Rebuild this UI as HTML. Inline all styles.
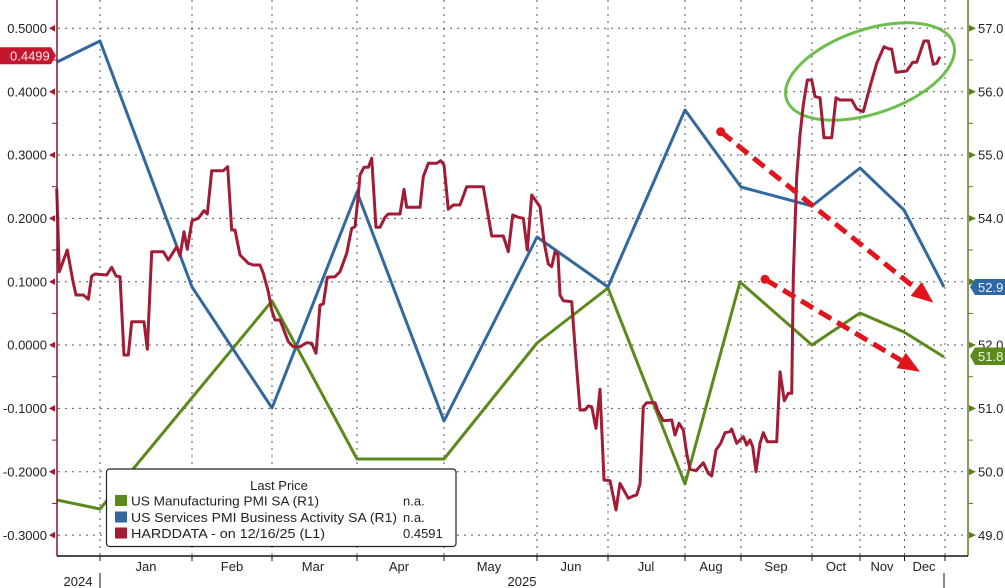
<!DOCTYPE html>
<html>
<head>
<meta charset="utf-8">
<style>
html,body{margin:0;padding:0;background:#fff;}
svg{display:block;}
text{font-family:"Liberation Sans",Arial,sans-serif;}
</style>
</head>
<body>
<svg width="1005" height="588" viewBox="0 0 1005 588" xmlns="http://www.w3.org/2000/svg">
<rect x="0" y="0" width="1005" height="588" fill="#fff"/>

<!-- horizontal gridlines -->
<g stroke="#555" stroke-width="1" stroke-dasharray="2 5" fill="none">
<line x1="58" y1="28.3" x2="968" y2="28.3"/>
<line x1="58" y1="91.7" x2="968" y2="91.7"/>
<line x1="58" y1="155" x2="968" y2="155"/>
<line x1="58" y1="218.4" x2="968" y2="218.4"/>
<line x1="58" y1="281.7" x2="968" y2="281.7"/>
<line x1="58" y1="345" x2="968" y2="345"/>
<line x1="58" y1="408.4" x2="968" y2="408.4"/>
<line x1="58" y1="471.8" x2="968" y2="471.8"/>
<line x1="58" y1="535.1" x2="968" y2="535.1"/>
</g>
<!-- vertical gridlines -->
<g stroke="#555" stroke-width="1" stroke-dasharray="2 5" fill="none">
<line x1="100" y1="0" x2="100" y2="556"/>
<line x1="192" y1="0" x2="192" y2="556"/>
<line x1="272" y1="0" x2="272" y2="556"/>
<line x1="357" y1="0" x2="357" y2="556"/>
<line x1="444" y1="0" x2="444" y2="556"/>
<line x1="537" y1="0" x2="537" y2="556"/>
<line x1="608" y1="0" x2="608" y2="556"/>
<line x1="685" y1="0" x2="685" y2="556"/>
<line x1="741" y1="0" x2="741" y2="556"/>
<line x1="812" y1="0" x2="812" y2="556"/>
<line x1="860" y1="0" x2="860" y2="556"/>
<line x1="904.5" y1="0" x2="904.5" y2="556"/>
<line x1="945" y1="0" x2="945" y2="556"/>
</g>

<!-- ellipse annotation -->
<ellipse cx="870" cy="71.5" rx="88" ry="42" transform="rotate(-18.6 870 71.5)" fill="none" stroke="#6cbf4c" stroke-width="3"/>

<!-- green series (Manufacturing PMI) -->
<polyline fill="none" stroke="#5b8a1c" stroke-width="3" stroke-linejoin="round"
points="57,500 100,509 272,301 357,459 444,459 537,343 608,288 685,484 740,282 812,345 860,313 904,332 944,357"/>

<!-- blue series (Services PMI) -->
<polyline fill="none" stroke="#33689f" stroke-width="3" stroke-linejoin="round"
points="57,62 100,41 192,287 272,408 357,192 444,421 537,237 608,287 685,110 741,187 812,206 860,168 904,210 944,287"/>

<!-- red series (HARDDATA) -->
<polyline fill="none" stroke="#a11c35" stroke-width="3" stroke-linejoin="round"
points="56.7,188.3 59.3,271.7 67.3,250 72.7,280 76,295 83.3,295 88.3,299.3 91.7,276 95,274 106.7,275 111.7,267.3 116,276 120,276.7 124,355 128.3,355 131.7,321.7 144,321.7 147.3,349.3 151.7,251.7 163.3,251.7 168.3,260 176.7,246.7 180,256 184,231.7 187.3,249.3 192,220.7 198.3,218.3 204,210.7 207.3,214 211.7,170.7 223.3,170.7 227.7,166.7 231.7,230 235,230 240,255 248.3,263.3 253.3,265 260,265 263.3,273.3 268.3,291.7 271.7,310 275,320 280,320 288.3,341.7 293.3,346.7 300,346.7 306.7,342.7 311.7,343.3 316,353.3 320,305 323.3,304 327.3,277.3 335,276.7 340,271.7 346.7,253.3 351.7,228.3 355,226.7 358.3,195 360,175 364,167.3 368.3,167.3 371.7,158.3 376,227.3 380,227.3 385,217.3 388.3,214 400,214 404,189.3 406.7,207.3 420,207.3 423.3,176.7 428.3,163.3 436.7,163.3 440.7,160.7 444,165 448.3,209.3 453.3,205 460,205 466.7,186.7 483.3,186.7 491.7,236 503.3,236 508.3,251.7 512.7,215 518.3,217.3 523.3,218.3 527.3,250 531.7,195 540,206.7 544,241.7 548.3,264 551.7,266.7 555,251.7 558,255 560,295 563.3,300.7 571.7,301.7 575,346.7 580,410 585,410 588.3,406 591.7,406.7 596,428.3 600,389.3 604,480 610,480.7 616,510 620,483.3 628.3,498.3 633.3,496 636.7,495 640,484 643.3,406.7 646.7,402.7 655,402.7 658.3,411.7 663.3,420.7 671.7,420 675,435 679,423.3 683.3,430 686.7,453.3 690,469.3 696,470.7 703.3,462.7 708.3,473.3 711.7,476 716,450 720.7,443.3 725,432.7 730,431.7 731.7,429 736.7,443.3 743.3,436.7 746.7,445 750,440 752.7,446.7 756,471.7 760,443.3 763.3,432.7 767.3,441.7 776.7,441.7 780,371.7 784.3,400.7 788.3,393.3 791.7,393.3 793.3,276.7 796.7,176.7 800,135 803.3,105 807.3,80 811.7,80 815,96.7 820,97.7 824,137.7 831.7,137.7 836,97.7 840,100 851.7,100 856.7,109 863.3,111.7 870,86.7 876.7,63.3 884,46.7 889.3,49 891.7,49 896,72.3 906.7,71 912.7,62.3 916.7,62.3 924,41 928.3,41 933.3,64.3 936.7,63.3 940,56.7"/>

<!-- red dashed arrows -->
<g stroke="#e2151c" stroke-width="5" fill="none" stroke-dasharray="14 7">
<line x1="720.7" y1="131.7" x2="916.2" y2="288.9"/>
<line x1="765" y1="279.3" x2="901.1" y2="360.4"/>
</g>
<g fill="#e2151c">
<circle cx="720.7" cy="131.7" r="4.5"/>
<circle cx="765" cy="279.3" r="4.5"/>
<polygon points="933.3,302.7 910.6,295.9 921.8,281.9"/>
<polygon points="920,371.7 896.5,368.1 905.7,352.7"/>
</g>

<!-- left axis -->
<line x1="57" y1="0" x2="57" y2="556" stroke="#7d1a2a" stroke-width="1.5"/>
<g fill="#9b1b30">
<polygon points="49,28.3 55,25 55,31.6"/>
<polygon points="49,91.7 55,88.4 55,95"/>
<polygon points="49,155 55,151.7 55,158.3"/>
<polygon points="49,218.4 55,215.1 55,221.7"/>
<polygon points="49,281.7 55,278.4 55,285"/>
<polygon points="49,345 55,341.7 55,348.3"/>
<polygon points="49,408.4 55,405.1 55,411.7"/>
<polygon points="49,471.8 55,468.5 55,475.1"/>
<polygon points="49,535.1 55,531.8 55,538.4"/>
</g>
<g stroke="#7d1a2a" stroke-width="1">
<line x1="52" y1="60" x2="57" y2="60"/>
<line x1="52" y1="123.3" x2="57" y2="123.3"/>
<line x1="52" y1="186.7" x2="57" y2="186.7"/>
<line x1="52" y1="250" x2="57" y2="250"/>
<line x1="52" y1="313.4" x2="57" y2="313.4"/>
<line x1="52" y1="376.7" x2="57" y2="376.7"/>
<line x1="52" y1="440.1" x2="57" y2="440.1"/>
<line x1="52" y1="503.4" x2="57" y2="503.4"/>
</g>
<g font-size="13" fill="#222" text-anchor="end">
<text x="47" y="33">0.5000</text>
<text x="47" y="96.4">0.4000</text>
<text x="47" y="159.7">0.3000</text>
<text x="47" y="223.1">0.2000</text>
<text x="47" y="286.4">0.1000</text>
<text x="47" y="349.7">0.0000</text>
<text x="47" y="413.1">-0.1000</text>
<text x="47" y="476.5">-0.2000</text>
<text x="47" y="539.8">-0.3000</text>
</g>
<!-- left last value label -->
<polygon points="0,47.3 51,47.3 56,55.8 51,64.3 0,64.3" fill="#c4162f"/>
<text x="10" y="60.5" font-size="13" fill="#fbe6e8">0.4499</text>

<!-- right axis -->
<line x1="968" y1="0" x2="968" y2="556" stroke="#5f7f1f" stroke-width="1.5"/>
<g fill="#5b7f1c">
<polygon points="976,28.3 969,25 969,31.6"/>
<polygon points="976,91.7 969,88.4 969,95"/>
<polygon points="976,155 969,151.7 969,158.3"/>
<polygon points="976,218.4 969,215.1 969,221.7"/>
<polygon points="976,281.7 969,278.4 969,285"/>
<polygon points="976,345 969,341.7 969,348.3"/>
<polygon points="976,408.4 969,405.1 969,411.7"/>
<polygon points="976,471.8 969,468.5 969,475.1"/>
<polygon points="976,535.1 969,531.8 969,538.4"/>
</g>
<g stroke="#5f7f1f" stroke-width="1">
<line x1="968" y1="60" x2="973" y2="60"/>
<line x1="968" y1="123.3" x2="973" y2="123.3"/>
<line x1="968" y1="186.7" x2="973" y2="186.7"/>
<line x1="968" y1="250" x2="973" y2="250"/>
<line x1="968" y1="313.4" x2="973" y2="313.4"/>
<line x1="968" y1="376.7" x2="973" y2="376.7"/>
<line x1="968" y1="440.1" x2="973" y2="440.1"/>
<line x1="968" y1="503.4" x2="973" y2="503.4"/>
</g>
<g font-size="13" fill="#222">
<text x="978" y="33">57.0</text>
<text x="978" y="96.4">56.0</text>
<text x="978" y="159.7">55.0</text>
<text x="978" y="223.1">54.0</text>
<text x="978" y="349.7">52.0</text>
<text x="978" y="413.1">51.0</text>
<text x="978" y="476.5">50.0</text>
<text x="978" y="539.8">49.0</text>
</g>
<!-- right last value labels -->
<polygon points="970,287 975,279 1005,279 1005,295 975,295" fill="#2e68a5"/>
<text x="978" y="292" font-size="13" fill="#eef4fb">52.9</text>
<polygon points="970,356 975,347.5 1005,347.5 1005,365 975,365" fill="#5b8a1c"/>
<text x="978" y="361" font-size="13" fill="#f1f7e8">51.8</text>

<!-- bottom axis -->
<line x1="57" y1="556" x2="968" y2="556" stroke="#111" stroke-width="1.5"/>
<g stroke="#111" stroke-width="1">
<line x1="100" y1="556" x2="100" y2="561"/>
<line x1="192" y1="556" x2="192" y2="561"/>
<line x1="272" y1="556" x2="272" y2="561"/>
<line x1="357" y1="556" x2="357" y2="561"/>
<line x1="444" y1="556" x2="444" y2="561"/>
<line x1="537" y1="556" x2="537" y2="561"/>
<line x1="608" y1="556" x2="608" y2="561"/>
<line x1="685" y1="556" x2="685" y2="561"/>
<line x1="741" y1="556" x2="741" y2="561"/>
<line x1="812" y1="556" x2="812" y2="561"/>
<line x1="860" y1="556" x2="860" y2="561"/>
<line x1="904.5" y1="556" x2="904.5" y2="561"/>
<line x1="945" y1="556" x2="945" y2="561"/>
<line x1="100" y1="573" x2="100" y2="588"/>
<line x1="944" y1="573" x2="944" y2="588"/>
</g>
<g font-size="13" fill="#222" text-anchor="middle">
<text x="146" y="571">Jan</text>
<text x="232" y="571">Feb</text>
<text x="313" y="571">Mar</text>
<text x="399" y="571">Apr</text>
<text x="489" y="571">May</text>
<text x="571" y="571">Jun</text>
<text x="646" y="571">Jul</text>
<text x="711" y="571">Aug</text>
<text x="776" y="571">Sep</text>
<text x="836" y="571">Oct</text>
<text x="882" y="571">Nov</text>
<text x="924" y="571">Dec</text>
<text x="78" y="586">2024</text>
<text x="522" y="586">2025</text>
</g>

<!-- legend -->
<rect x="106.5" y="469" width="349.5" height="77.5" rx="3" ry="3" fill="#fff" stroke="#222" stroke-width="1.2"/>
<text x="279" y="490" font-size="13" fill="#222" text-anchor="middle">Last Price</text>
<rect x="115" y="495" width="12" height="11" fill="#5b8a1c"/>
<rect x="115" y="511.5" width="12" height="11" fill="#33689f"/>
<rect x="115" y="527.5" width="12" height="11" fill="#a11c35"/>
<g font-size="13" fill="#222">
<text x="131" y="505.5" textLength="188" lengthAdjust="spacingAndGlyphs">US Manufacturing PMI SA  (R1)</text>
<text x="131" y="522" textLength="266" lengthAdjust="spacingAndGlyphs">US Services PMI Business Activity SA  (R1)</text>
<text x="131" y="538" textLength="194" lengthAdjust="spacingAndGlyphs">HARDDATA -  on 12/16/25  (L1)</text>
<text x="403" y="505.5">n.a.</text>
<text x="403" y="522">n.a.</text>
<text x="403" y="538">0.4591</text>
</g>
</svg>
</body>
</html>
